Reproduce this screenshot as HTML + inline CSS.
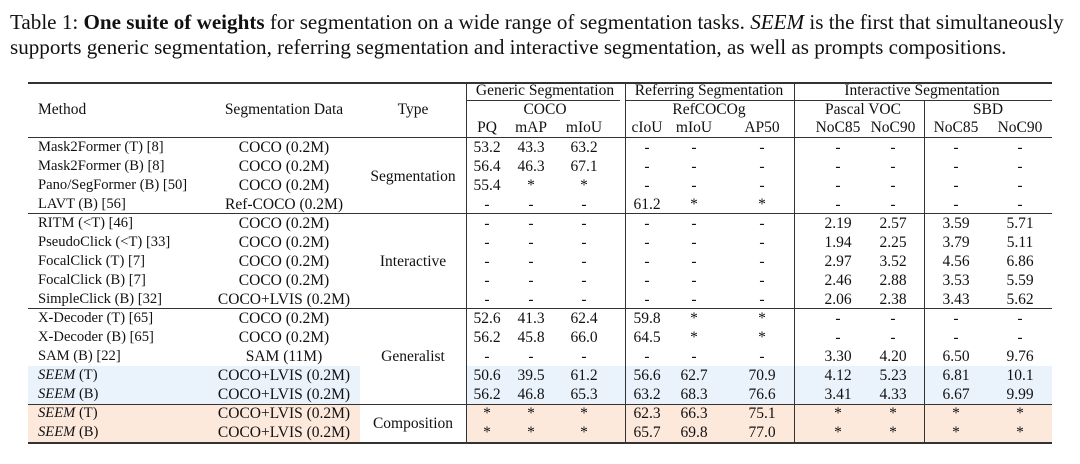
<!DOCTYPE html><html><head><style>
body{margin:0;width:1080px;height:464px;background:#fff;position:relative;overflow:hidden;font-family:"Liberation Serif",serif;color:#111}
.cap{position:absolute;left:10px;font-size:21.1px;white-space:nowrap}
.r{position:absolute;left:0;width:1080px;height:19px;font-size:15.5px;line-height:19px}
.r span{position:absolute;white-space:nowrap;transform:translateX(-50%)}
.r span.m{transform:none;left:38px;font-size:14.6px}
.d{left:284px}.t{left:413px}
.a{left:487px}.b{left:531px}.c{left:584px}
.e{left:647px}.f{left:694px}.g{left:762px}
.h{left:838px}.i{left:893px}.j{left:956px}.k{left:1020px}
.hl{position:absolute;left:28px;width:1024px;background:#333}
.vl{position:absolute;width:1px;background:#333}
.bg{position:absolute}
</style></head><body>
<div class="cap" style="top:10px">Table 1: <b>One suite of weights</b> for segmentation on a wide range of segmentation tasks. <i>SEEM</i> is the first that simultaneously</div>
<div class="cap" style="top:35px">supports generic segmentation, referring segmentation and interactive segmentation, as well as prompts compositions.</div>

<div class="bg" style="left:28px;top:366px;width:332px;height:38px;background:#eaf2fc"></div>
<div class="bg" style="left:466px;top:366px;width:586px;height:38px;background:#eaf2fc"></div>
<div class="bg" style="left:28px;top:405px;width:332px;height:37px;background:#fde8dc"></div>
<div class="bg" style="left:466px;top:405px;width:586px;height:37px;background:#fde8dc"></div>

<div class="hl" style="top:82px;height:1.5px"></div>
<div class="hl" style="top:137px;height:1.2px"></div>
<div class="hl" style="top:213px;height:1px"></div>
<div class="hl" style="top:308px;height:1px"></div>
<div class="hl" style="top:404px;height:1px"></div>
<div class="hl" style="top:442px;height:1.5px"></div>
<div style="position:absolute;left:466px;top:100px;width:154px;height:1px;background:#333"></div>
<div style="position:absolute;left:626px;top:100px;width:168px;height:1px;background:#333"></div>
<div style="position:absolute;left:795px;top:100px;width:257px;height:1px;background:#333"></div>
<div class="vl" style="left:466px;top:82px;height:361px"></div>
<div class="vl" style="left:625px;top:82px;height:361px"></div>
<div class="vl" style="left:794px;top:82px;height:361px"></div>
<div class="vl" style="left:924px;top:100px;height:343px"></div>

<div class="r" style="top:81px"><span style="left:545px">Generic Segmentation</span><span style="left:709px">Referring Segmentation</span><span style="left:922px">Interactive Segmentation</span></div>
<div class="r" style="top:100px"><span class="m" style="font-size:15.5px">Method</span><span class="d">Segmentation Data</span><span class="t">Type</span><span style="left:545px">COCO</span><span style="left:709px">RefCOCOg</span><span style="left:863px">Pascal VOC</span><span style="left:988px">SBD</span></div>
<div class="r" style="top:118px"><span class="a">PQ</span><span class="b">mAP</span><span class="c">mIoU</span><span class="e">cIoU</span><span class="f">mIoU</span><span class="g">AP50</span><span class="h">NoC85</span><span class="i">NoC90</span><span class="j">NoC85</span><span class="k">NoC90</span></div>

<div class="r" style="top:138px"><span class="m">Mask2Former (T) [8]</span><span class="d">COCO (0.2M)</span><span class="a">53.2</span><span class="b">43.3</span><span class="c">63.2</span><span class="e">-</span><span class="f">-</span><span class="g">-</span><span class="h">-</span><span class="i">-</span><span class="j">-</span><span class="k">-</span></div>
<div class="r" style="top:157px"><span class="m">Mask2Former (B) [8]</span><span class="d">COCO (0.2M)</span><span class="a">56.4</span><span class="b">46.3</span><span class="c">67.1</span><span class="e">-</span><span class="f">-</span><span class="g">-</span><span class="h">-</span><span class="i">-</span><span class="j">-</span><span class="k">-</span></div>
<div class="r" style="top:167px"><span class="t">Segmentation</span></div>
<div class="r" style="top:176px"><span class="m">Pano/SegFormer (B) [50]</span><span class="d">COCO (0.2M)</span><span class="a">55.4</span><span class="b">*</span><span class="c">*</span><span class="e">-</span><span class="f">-</span><span class="g">-</span><span class="h">-</span><span class="i">-</span><span class="j">-</span><span class="k">-</span></div>
<div class="r" style="top:195px"><span class="m">LAVT (B) [56]</span><span class="d">Ref-COCO (0.2M)</span><span class="a">-</span><span class="b">-</span><span class="c">-</span><span class="e">61.2</span><span class="f">*</span><span class="g">*</span><span class="h">-</span><span class="i">-</span><span class="j">-</span><span class="k">-</span></div>

<div class="r" style="top:214px"><span class="m">RITM (&lt;T) [46]</span><span class="d">COCO (0.2M)</span><span class="a">-</span><span class="b">-</span><span class="c">-</span><span class="e">-</span><span class="f">-</span><span class="g">-</span><span class="h">2.19</span><span class="i">2.57</span><span class="j">3.59</span><span class="k">5.71</span></div>
<div class="r" style="top:233px"><span class="m">PseudoClick (&lt;T) [33]</span><span class="d">COCO (0.2M)</span><span class="a">-</span><span class="b">-</span><span class="c">-</span><span class="e">-</span><span class="f">-</span><span class="g">-</span><span class="h">1.94</span><span class="i">2.25</span><span class="j">3.79</span><span class="k">5.11</span></div>
<div class="r" style="top:252px"><span class="m">FocalClick (T) [7]</span><span class="d">COCO (0.2M)</span><span class="t">Interactive</span><span class="a">-</span><span class="b">-</span><span class="c">-</span><span class="e">-</span><span class="f">-</span><span class="g">-</span><span class="h">2.97</span><span class="i">3.52</span><span class="j">4.56</span><span class="k">6.86</span></div>
<div class="r" style="top:271px"><span class="m">FocalClick (B) [7]</span><span class="d">COCO (0.2M)</span><span class="a">-</span><span class="b">-</span><span class="c">-</span><span class="e">-</span><span class="f">-</span><span class="g">-</span><span class="h">2.46</span><span class="i">2.88</span><span class="j">3.53</span><span class="k">5.59</span></div>
<div class="r" style="top:290px"><span class="m">SimpleClick (B) [32]</span><span class="d">COCO+LVIS (0.2M)</span><span class="a">-</span><span class="b">-</span><span class="c">-</span><span class="e">-</span><span class="f">-</span><span class="g">-</span><span class="h">2.06</span><span class="i">2.38</span><span class="j">3.43</span><span class="k">5.62</span></div>

<div class="r" style="top:309px"><span class="m">X-Decoder (T) [65]</span><span class="d">COCO (0.2M)</span><span class="a">52.6</span><span class="b">41.3</span><span class="c">62.4</span><span class="e">59.8</span><span class="f">*</span><span class="g">*</span><span class="h">-</span><span class="i">-</span><span class="j">-</span><span class="k">-</span></div>
<div class="r" style="top:328px"><span class="m">X-Decoder (B) [65]</span><span class="d">COCO (0.2M)</span><span class="a">56.2</span><span class="b">45.8</span><span class="c">66.0</span><span class="e">64.5</span><span class="f">*</span><span class="g">*</span><span class="h">-</span><span class="i">-</span><span class="j">-</span><span class="k">-</span></div>
<div class="r" style="top:347px"><span class="m">SAM (B) [22]</span><span class="d">SAM (11M)</span><span class="t">Generalist</span><span class="a">-</span><span class="b">-</span><span class="c">-</span><span class="e">-</span><span class="f">-</span><span class="g">-</span><span class="h">3.30</span><span class="i">4.20</span><span class="j">6.50</span><span class="k">9.76</span></div>
<div class="r" style="top:366px"><span class="m"><i>SEEM</i> (T)</span><span class="d">COCO+LVIS (0.2M)</span><span class="a">50.6</span><span class="b">39.5</span><span class="c">61.2</span><span class="e">56.6</span><span class="f">62.7</span><span class="g">70.9</span><span class="h">4.12</span><span class="i">5.23</span><span class="j">6.81</span><span class="k">10.1</span></div>
<div class="r" style="top:385px"><span class="m"><i>SEEM</i> (B)</span><span class="d">COCO+LVIS (0.2M)</span><span class="a">56.2</span><span class="b">46.8</span><span class="c">65.3</span><span class="e">63.2</span><span class="f">68.3</span><span class="g">76.6</span><span class="h">3.41</span><span class="i">4.33</span><span class="j">6.67</span><span class="k">9.99</span></div>

<div class="r" style="top:404px"><span class="m"><i>SEEM</i> (T)</span><span class="d">COCO+LVIS (0.2M)</span><span class="a">*</span><span class="b">*</span><span class="c">*</span><span class="e">62.3</span><span class="f">66.3</span><span class="g">75.1</span><span class="h">*</span><span class="i">*</span><span class="j">*</span><span class="k">*</span></div>
<div class="r" style="top:414px"><span class="t">Composition</span></div>
<div class="r" style="top:423px"><span class="m"><i>SEEM</i> (B)</span><span class="d">COCO+LVIS (0.2M)</span><span class="a">*</span><span class="b">*</span><span class="c">*</span><span class="e">65.7</span><span class="f">69.8</span><span class="g">77.0</span><span class="h">*</span><span class="i">*</span><span class="j">*</span><span class="k">*</span></div>
</body></html>
